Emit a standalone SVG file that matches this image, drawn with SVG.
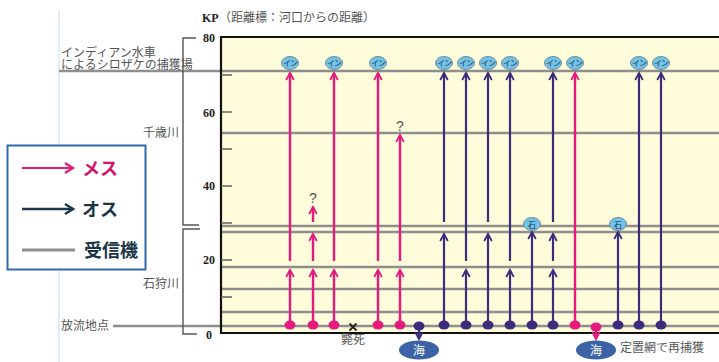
<svg xmlns="http://www.w3.org/2000/svg" width="719" height="362" viewBox="0 0 719 362">
<style>
.jp{font-family:"Noto Sans CJK JP","Noto Sans",sans-serif;}
.lbl{font-size:12px;fill:#555;}
.num{font-family:"Liberation Serif",serif;font-weight:bold;font-size:12px;fill:#222;}
.rcv{stroke:#8E8E8E;stroke-width:2.6;fill:none;}
.brk{stroke:#555;stroke-width:1.4;fill:none;}
.tick{stroke:#555;stroke-width:1.4;}
.pk{stroke:#E6197D;stroke-width:2.4;fill:none;}
.vt{stroke:#3B2C7C;stroke-width:2.2;fill:none;}
.pkA{marker-end:url(#ap);}
.vtA{marker-end:url(#av);}
.dp{fill:#E6197D;}
.dv{fill:#3B2C7C;}
.badge{fill:#72C2E6;stroke:#6F8E99;stroke-width:1;}
.btx{font-size:8px;fill:#1C3450;}
.sea{fill:#3C63A6;}
.q{font-family:"Liberation Sans",sans-serif;font-size:14px;fill:#555;}
</style>
<defs>
<marker id="ap" markerUnits="userSpaceOnUse" viewBox="-8 -5 10 10" markerWidth="10" markerHeight="10" refX="0" refY="0" orient="auto" overflow="visible">
<path d="M-7,-3.8 L0,0 L-7,3.8" fill="none" stroke="#E6197D" stroke-width="1.8"/>
</marker>
<marker id="av" markerUnits="userSpaceOnUse" viewBox="-8 -5 10 10" markerWidth="10" markerHeight="10" refX="0" refY="0" orient="auto" overflow="visible">
<path d="M-7,-3.8 L0,0 L-7,3.8" fill="none" stroke="#3B2C7C" stroke-width="1.8"/>
</marker>
<marker id="al" markerUnits="userSpaceOnUse" viewBox="-10 -6 12 12" markerWidth="12" markerHeight="12" refX="0" refY="0" orient="auto" overflow="visible">
<path d="M-8,-5 L0,0 L-8,5" fill="none" stroke="#E6197D" stroke-width="2.2"/>
</marker>
<marker id="ad" markerUnits="userSpaceOnUse" viewBox="-10 -6 12 12" markerWidth="12" markerHeight="12" refX="0" refY="0" orient="auto" overflow="visible">
<path d="M-8,-5 L0,0 L-8,5" fill="none" stroke="#1E3A4C" stroke-width="2.6"/>
</marker>
</defs>
<rect width="719" height="362" fill="#FFFFFF"/>
<line x1="59" y1="10" x2="59" y2="362" stroke="#CFE0F2" stroke-width="1.2"/>

<g id="title">
<text x="202" y="22" class="num" font-size="12">KP</text>
<text x="219" y="22" class="jp" font-size="12" fill="#555">（距離標：河口からの距離）</text>
</g>

<g id="chart">
<rect x="221" y="37" width="498" height="296" fill="#FEFCDB"/>
<g id="receivers">
<line class="rcv" x1="59" y1="71" x2="719" y2="71"/>
<line class="rcv" x1="221" y1="133" x2="719" y2="133"/>
<line class="rcv" x1="221" y1="226" x2="719" y2="226"/>
<line class="rcv" x1="221" y1="232" x2="719" y2="232"/>
<line class="rcv" x1="221" y1="267" x2="719" y2="267"/>
<line class="rcv" x1="221" y1="289" x2="719" y2="289"/>
<line class="rcv" x1="221" y1="312" x2="719" y2="312"/>
<line class="rcv" x1="113" y1="326" x2="719" y2="326"/>
</g>
<g id="frame">
<line x1="221" y1="37" x2="719" y2="37" stroke="#111" stroke-width="2.2"/>
<line x1="221" y1="333" x2="719" y2="333" stroke="#111" stroke-width="2.2"/>
<line x1="221" y1="36" x2="221" y2="334" stroke="#111" stroke-width="2.2"/>
<line class="tick" x1="221" y1="75" x2="232" y2="75"/>
<line class="tick" x1="221" y1="112" x2="232" y2="112"/>
<line class="tick" x1="221" y1="149" x2="232" y2="149"/>
<line class="tick" x1="221" y1="186" x2="232" y2="186"/>
<line class="tick" x1="221" y1="223" x2="232" y2="223"/>
<line class="tick" x1="221" y1="260" x2="232" y2="260"/>
<line class="tick" x1="221" y1="297" x2="232" y2="297"/>
</g>
</g>

<g id="axis">
<path class="brk" d="M196,38 H183 V225 H199"/>
<path class="brk" d="M200,229 H183 V334 H197"/>
<text class="num" x="203" y="42">80</text>
<text class="num" x="203" y="117">60</text>
<text class="num" x="203" y="190">40</text>
<text class="num" x="203" y="264">20</text>
<text class="num" x="206" y="339">0</text>
<text class="jp lbl" x="143" y="137">千歳川</text>
<text class="jp lbl" x="143" y="288">石狩川</text>
<text class="jp lbl" x="61" y="330">放流地点</text>
<text class="jp lbl" font-size="12.3"><tspan x="61" y="56.5">インディアン水車</tspan><tspan x="61" y="68.5">によるシロザケの捕獲場</tspan></text>
</g>

<g id="legend">
<rect x="7.5" y="145.5" width="138" height="124" fill="#FFFFFF" stroke="#2F6BA8" stroke-width="2"/>
<line x1="22" y1="168" x2="73" y2="168" stroke="#E6197D" stroke-width="2.2" marker-end="url(#al)"/>
<text class="jp" x="82" y="175" font-size="18" font-weight="bold" fill="#D3146F">メス</text>
<line x1="22" y1="209" x2="73" y2="209" stroke="#1E3A4C" stroke-width="2.6" marker-end="url(#ad)"/>
<text class="jp" x="82" y="216" font-size="18" font-weight="bold" fill="#1A3545">オス</text>
<line x1="22" y1="250" x2="75" y2="250" stroke="#8E8E8E" stroke-width="3"/>
<text class="jp" x="84" y="257" font-size="18" font-weight="bold" fill="#1A3545">受信機</text>
</g>

<g id="connectors">
<line class="pk pkA" x1="290" y1="325" x2="290" y2="270"/>
<line class="pk pkA" x1="290" y1="261" x2="290" y2="73"/>
<line class="pk pkA" x1="313" y1="325" x2="313" y2="270"/>
<line class="pk pkA" x1="313" y1="261" x2="313" y2="234"/>
<line class="pk pkA" x1="313" y1="222" x2="313" y2="207"/>
<line class="pk pkA" x1="334" y1="325" x2="334" y2="270"/>
<line class="pk pkA" x1="334" y1="261" x2="334" y2="73"/>
<line class="pk pkA" x1="378" y1="325" x2="378" y2="270"/>
<line class="pk pkA" x1="378" y1="261" x2="378" y2="73"/>
<line class="pk pkA" x1="400" y1="325" x2="400" y2="270"/>
<line class="pk pkA" x1="400" y1="261" x2="400" y2="135"/>
<line class="pk pkA" x1="575" y1="325" x2="575" y2="73"/>
<line class="pk pkA" x1="596" y1="328" x2="596" y2="339"/>
<line class="vt vtA" x1="419" y1="327" x2="419" y2="339"/>
<line class="vt vtA" x1="444" y1="325" x2="444" y2="234"/>
<line class="vt vtA" x1="444" y1="222" x2="444" y2="73"/>
<line class="vt vtA" x1="466" y1="325" x2="466" y2="270"/>
<line class="vt vtA" x1="466" y1="261" x2="466" y2="73"/>
<line class="vt vtA" x1="488" y1="325" x2="488" y2="234"/>
<line class="vt vtA" x1="488" y1="222" x2="488" y2="73"/>
<line class="vt vtA" x1="510" y1="325" x2="510" y2="270"/>
<line class="vt vtA" x1="510" y1="261" x2="510" y2="73"/>
<line class="vt vtA" x1="532" y1="325" x2="532" y2="232"/>
<line class="vt vtA" x1="553" y1="325" x2="553" y2="270"/>
<line class="vt vtA" x1="553" y1="261" x2="553" y2="234"/>
<line class="vt vtA" x1="553" y1="222" x2="553" y2="73"/>
<line class="vt vtA" x1="618" y1="325" x2="618" y2="232"/>
<line class="vt vtA" x1="639" y1="325" x2="639" y2="73"/>
<line class="vt vtA" x1="661" y1="325" x2="661" y2="73"/>
</g>

<g id="starts">
<ellipse class="dp" cx="290" cy="325" rx="5.5" ry="4.5"/>
<ellipse class="dp" cx="313" cy="325" rx="5.5" ry="4.5"/>
<ellipse class="dp" cx="334" cy="325" rx="5.5" ry="4.5"/>
<ellipse class="dp" cx="378" cy="325" rx="5.5" ry="4.5"/>
<ellipse class="dp" cx="400" cy="325" rx="5.5" ry="4.5"/>
<ellipse class="dv" cx="419" cy="326" rx="5.5" ry="4.5"/>
<ellipse class="dv" cx="444" cy="325" rx="5.5" ry="4.5"/>
<ellipse class="dv" cx="466" cy="325" rx="5.5" ry="4.5"/>
<ellipse class="dv" cx="488" cy="325" rx="5.5" ry="4.5"/>
<ellipse class="dv" cx="510" cy="325" rx="5.5" ry="4.5"/>
<ellipse class="dv" cx="532" cy="325" rx="5.5" ry="4.5"/>
<ellipse class="dv" cx="553" cy="325" rx="5.5" ry="4.5"/>
<ellipse class="dp" cx="575" cy="325" rx="5.5" ry="4.5"/>
<ellipse class="dp" cx="596" cy="327" rx="5.5" ry="4.5"/>
<ellipse class="dv" cx="618" cy="325" rx="5.5" ry="4.5"/>
<ellipse class="dv" cx="639" cy="325" rx="5.5" ry="4.5"/>
<ellipse class="dv" cx="661" cy="325" rx="5.5" ry="4.5"/>
</g>

<g id="dead">
<path d="M349.5,323.5 L356.5,330.5 M356.5,323.5 L349.5,330.5" stroke="#222" stroke-width="1.8"/>
<text class="jp lbl" x="341" y="344" font-size="11.5">斃死</text>
</g>

<g id="unknown">
<text class="q" x="313" y="203" text-anchor="middle">?</text>
<text class="q" x="400" y="131" text-anchor="middle">?</text>
</g>

<g id="indian-badges" class="jp">
<g id="in-290"><ellipse class="badge" cx="290" cy="63" rx="8.5" ry="6.5"/><text class="btx" x="290" y="66" text-anchor="middle" letter-spacing="-1">イン</text></g>
<g id="in-334"><ellipse class="badge" cx="334" cy="63" rx="8.5" ry="6.5"/><text class="btx" x="334" y="66" text-anchor="middle" letter-spacing="-1">イン</text></g>
<g id="in-378"><ellipse class="badge" cx="378" cy="63" rx="8.5" ry="6.5"/><text class="btx" x="378" y="66" text-anchor="middle" letter-spacing="-1">イン</text></g>
<g id="in-444"><ellipse class="badge" cx="444" cy="63" rx="8.5" ry="6.5"/><text class="btx" x="444" y="66" text-anchor="middle" letter-spacing="-1">イン</text></g>
<g id="in-466"><ellipse class="badge" cx="466" cy="63" rx="8.5" ry="6.5"/><text class="btx" x="466" y="66" text-anchor="middle" letter-spacing="-1">イン</text></g>
<g id="in-488"><ellipse class="badge" cx="488" cy="63" rx="8.5" ry="6.5"/><text class="btx" x="488" y="66" text-anchor="middle" letter-spacing="-1">イン</text></g>
<g id="in-510"><ellipse class="badge" cx="510" cy="63" rx="8.5" ry="6.5"/><text class="btx" x="510" y="66" text-anchor="middle" letter-spacing="-1">イン</text></g>
<g id="in-553"><ellipse class="badge" cx="553" cy="63" rx="8.5" ry="6.5"/><text class="btx" x="553" y="66" text-anchor="middle" letter-spacing="-1">イン</text></g>
<g id="in-575"><ellipse class="badge" cx="575" cy="63" rx="8.5" ry="6.5"/><text class="btx" x="575" y="66" text-anchor="middle" letter-spacing="-1">イン</text></g>
<g id="in-639"><ellipse class="badge" cx="639" cy="63" rx="8.5" ry="6.5"/><text class="btx" x="639" y="66" text-anchor="middle" letter-spacing="-1">イン</text></g>
<g id="in-661"><ellipse class="badge" cx="661" cy="63" rx="8.5" ry="6.5"/><text class="btx" x="661" y="66" text-anchor="middle" letter-spacing="-1">イン</text></g>
</g>

<g id="stone-badges" class="jp">
<g id="ishi-532"><ellipse class="badge" cx="532" cy="224" rx="8.5" ry="6.5"/><text class="btx" x="532" y="227.5" text-anchor="middle" font-size="9">石</text></g>
<g id="ishi-618"><ellipse class="badge" cx="618" cy="224" rx="8.5" ry="6.5"/><text class="btx" x="618" y="227.5" text-anchor="middle" font-size="9">石</text></g>
</g>

<g id="sea-badges" class="jp">
<g id="sea-419"><ellipse class="sea" cx="419" cy="350" rx="20" ry="9.5"/><text x="419" y="354.5" text-anchor="middle" font-size="12" fill="#FFFFFF">海</text></g>
<g id="sea-596"><ellipse class="sea" cx="596" cy="350" rx="20" ry="9.5"/><text x="596" y="354.5" text-anchor="middle" font-size="12" fill="#FFFFFF">海</text></g>
<text class="lbl" x="620" y="352" font-size="11">定置網で再捕獲</text>
</g>
</svg>
